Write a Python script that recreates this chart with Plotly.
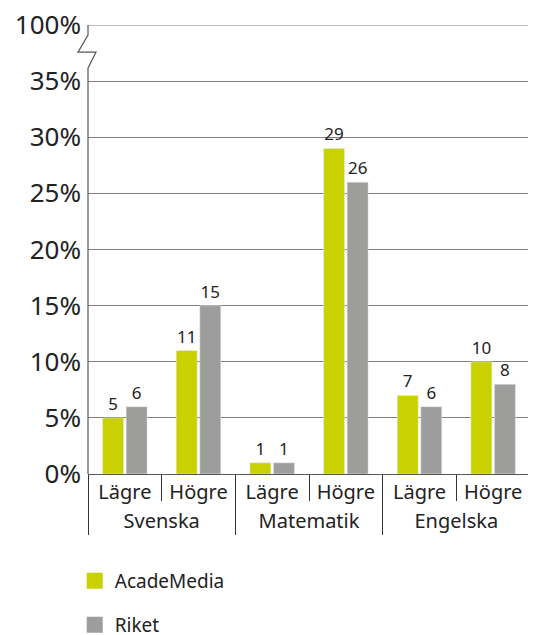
import plotly.graph_objects as go

# data
amnen = ["Svenska", "Svenska", "Matematik", "Matematik", "Engelska", "Engelska"]
nivaer = ["Lägre", "Högre", "Lägre", "Högre", "Lägre", "Högre"]
acade = [5, 11, 1, 29, 7, 10]
riket = [6, 15, 1, 26, 6, 8]
y_ticks = [0, 5, 10, 15, 20, 25, 30, 35, 40]
y_labels = ["0%", "5%", "10%", "15%", "20%", "25%", "30%", "35%", "100%"]

gul = "#C9D200"
gra = "#9D9D9C"
font = "Noto Sans"

fig = go.Figure()
fig.add_trace(go.Bar(x=[amnen, nivaer], y=acade, marker_color=gul, name="AcadeMedia",
                     text=acade, textposition="outside", cliponaxis=False,
                     textfont=dict(size=17, color="#222"), showlegend=False))
fig.add_trace(go.Bar(x=[amnen, nivaer], y=riket, marker_color=gra, name="Riket",
                     text=riket, textposition="outside", cliponaxis=False,
                     textfont=dict(size=17, color="#222"), showlegend=False))

# legend entries with big square markers, one legend each so they can be spaced freely
for namn, farg, leg in [("AcadeMedia", gul, "legend"), ("Riket", gra, "legend2")]:
    fig.add_trace(go.Scatter(x=[None], y=[None], mode="markers", name=namn, legend=leg,
                             marker=dict(symbol="square", size=22, color=farg)))

# y axis line with break between 35% and 100%
fig.add_shape(type="path", xref="paper", yref="y", xsizemode="pixel", xanchor=0,
              path="M0,0 L0,36.15 L8,37.58 L-10,37.58 L0,39.1 L0,40",
              line=dict(color="#555", width=1.2), layer="above")
# top gridline (100%)
fig.add_shape(type="line", xref="paper", yref="y", x0=0, x1=1, y0=40, y1=40,
              line=dict(color="#7f7f7f", width=1))

leg_style = dict(x=-0.03, xanchor="left", yanchor="middle", font=dict(size=19),
                 itemwidth=30, bgcolor="rgba(0,0,0,0)")

# page body has an 8px margin, so the figure is a bit smaller than the window
fig.update_layout(
    width=528, height=627,
    margin=dict(l=80, r=6, t=17, b=161, autoexpand=False),
    paper_bgcolor="white", plot_bgcolor="white",
    font=dict(family=font, color="#222"),
    barmode="group", bargap=0.36, bargroupgap=0.11,
    legend=dict(y=-0.238, **leg_style),
    legend2=dict(y=-0.336, **leg_style),
)
fig.update_yaxes(range=[0, 40], tickvals=y_ticks, ticktext=y_labels, automargin=False,
                 tickfont=dict(size=26), showgrid=True, gridcolor="#7f7f7f", gridwidth=1,
                 showline=False, zeroline=False, ticks="", ticklabelstandoff=6,
                 ticklabeloverflow="allow")
fig.update_xaxes(showline=True, linecolor="#555", linewidth=1.2, automargin=False,
                 tickfont=dict(size=20), ticks="outside", tickson="boundaries",
                 ticklen=26, tickcolor="#333", showdividers=True,
                 dividercolor="#333", dividerwidth=1)

fig.write_html("out.html")
